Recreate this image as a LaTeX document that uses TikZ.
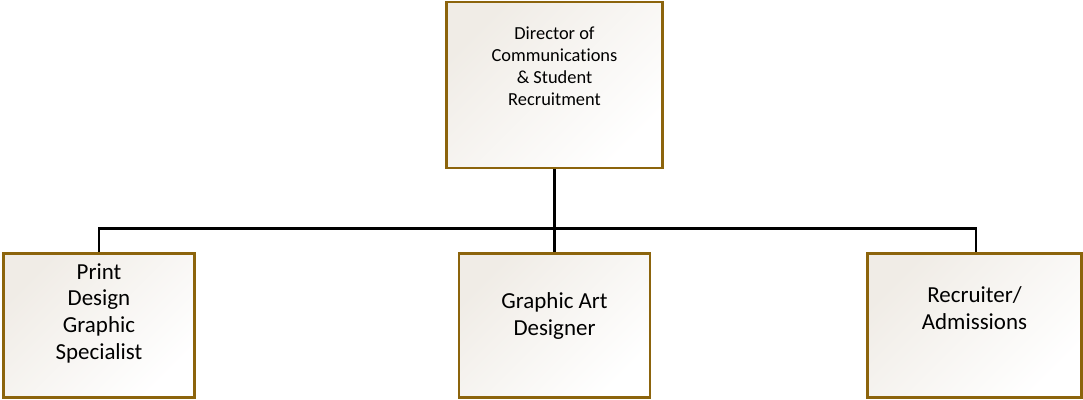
\documentclass[tikz,border=0pt]{standalone}
\usepackage{fontspec}
\setmainfont{Carlito}[Ligatures=NoCommon]
\definecolor{boxborder}{RGB}{140,100,12}
\definecolor{boxtint}{RGB}{240,236,230}
\begin{document}
\begin{tikzpicture}[x=0.75pt,y=-0.75pt,
  orgbox/.style={draw=boxborder, line width=2.2pt, rectangle, inner sep=0pt,
    top color=boxtint, bottom color=white, shading angle=45},
  conn/.style={draw=black, line width=2.2pt},
  smalltxt/.style={align=center, font=\fontsize{13.8pt}{16.5pt}\selectfont, text=black},
  bigtxt/.style={align=center, font=\fontsize{17.2pt}{20pt}\selectfont, text=black}]
\useasboundingbox (0,0) rectangle (1083,400);
\node[orgbox, minimum width=216*0.75pt, minimum height=166*0.75pt] (top) at (554.5,85) {};
\node[orgbox, minimum width=191*0.75pt, minimum height=144*0.75pt] (left) at (99,325.5) {};
\node[orgbox, minimum width=191*0.75pt, minimum height=144*0.75pt] (mid) at (554.5,325.5) {};
\node[orgbox, minimum width=214*0.75pt, minimum height=144*0.75pt] (right) at (974.5,325.5) {};
\node[smalltxt] (toptxt) at (554.5,66) {Director of\\Communications\\\& Student\\Recruitment};
\node[bigtxt] (lefttxt) at (99,313) {Print\\Design\\Graphic\\Specialist};
\node[bigtxt] (midtxt) at (554.5,316) {Graphic Art\\Designer};
\node[bigtxt] (righttxt) at (974.5,308) {Recruiter/\\Admissions};
\draw[conn] (top.south) -- (mid.north);
\draw[conn] (left.north) -- ++(0,-24) -| ([xshift=1.1pt]right.north);
\end{tikzpicture}
\end{document}
